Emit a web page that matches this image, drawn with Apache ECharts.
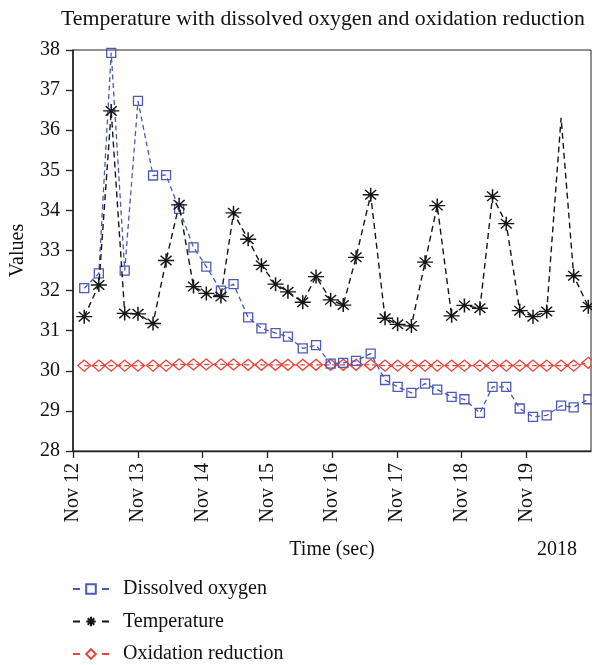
<!DOCTYPE html>
<html>
<head>
<meta charset="utf-8">
<script src="https://cdn.jsdelivr.net/npm/echarts@6/dist/echarts.min.js"></script>
<style>html,body{margin:0;padding:0;background:#fff;}#chart{width:592px;height:665px;}</style>
</head>
<body>
<div id="chart"></div>
<script>
const titleText = 'Temperature with dissolved oxygen and oxidation reduction';
const seriesNames = ['Dissolved oxygen', 'Temperature', 'Oxidation reduction'];
const yearLabel = '2018';
const axisStart = '2018-11-12T00:00';
const axisEnd = '2018-11-20T00:00';

const times = [
  '2018-11-12T04:10','2018-11-12T09:35','2018-11-12T14:10','2018-11-12T19:10',
  '2018-11-13T00:05','2018-11-13T05:40','2018-11-13T10:30','2018-11-13T15:20','2018-11-13T20:40',
  '2018-11-14T01:25','2018-11-14T06:50','2018-11-14T11:30','2018-11-14T16:55','2018-11-14T21:50',
  '2018-11-15T03:05','2018-11-15T07:40','2018-11-15T13:10','2018-11-15T18:05','2018-11-15T23:30',
  '2018-11-16T04:10','2018-11-16T08:55','2018-11-16T14:20','2018-11-16T19:40',
  '2018-11-17T00:20','2018-11-17T05:25','2018-11-17T10:30','2018-11-17T15:00','2018-11-17T20:20',
  '2018-11-18T01:05','2018-11-18T06:50','2018-11-18T11:30','2018-11-18T16:35','2018-11-18T21:35',
  '2018-11-19T02:30','2018-11-19T07:35','2018-11-19T12:55','2018-11-19T17:35','2018-11-19T23:00'
];

const dissolvedOxygen = [
  32.06,32.43,37.93,32.5,36.73,34.87,34.88,34.04,33.08,32.6,
  32.0,32.16,31.33,31.06,30.94,30.85,30.56,30.64,30.18,30.2,
  30.25,30.43,29.77,29.6,29.45,29.68,29.53,29.35,29.29,28.95,
  29.6,29.6,29.06,28.85,28.89,29.13,29.09,29.29
];

const temperature = [
  31.35,32.14,36.48,31.43,31.42,31.18,32.75,34.14,32.1,31.93,
  31.85,33.94,33.28,32.63,32.16,31.97,31.71,32.35,31.77,31.64,
  32.83,34.39,31.31,31.16,31.12,32.71,34.12,31.37,31.63,31.56,
  34.35,33.67,31.5,31.35,31.48,36.31,32.37,31.6
];

const oxidationReduction = [
  30.13,30.13,30.13,30.13,30.13,30.13,30.13,30.16,30.16,30.16,
  30.16,30.16,30.15,30.15,30.15,30.15,30.15,30.15,30.15,30.15,
  30.15,30.15,30.13,30.13,30.13,30.13,30.13,30.13,30.13,30.13,
  30.13,30.13,30.13,30.13,30.13,30.13,30.13,30.2
];

// the temperature peak near Nov 19 is drawn without a marker in the reference
const temperatureNoMarker = [35];

const ts = s => new Date(s).getTime();
const pair = (vals) => vals.map((v, i) => [ts(times[i]), v]);

const FONT = 'Liberation Serif';
const TXT = '#111';
const BLUE = '#4c58bb';
const BLACK = '#151515';
const RED = '#e8443a';
const STAR = 'path://M0,6L12,6M6,0L6,12M1.9,1.9L10.1,10.1M10.1,1.9L1.9,10.1';

const tempData = pair(temperature).map((d, i) =>
  temperatureNoMarker.includes(i) ? { value: d, symbol: 'none' } : d);

const chart = echarts.init(document.getElementById('chart'), null, { renderer: 'canvas' });
chart.setOption({
  animation: false,
  backgroundColor: '#fff',
  title: {
    text: titleText, left: 61, top: 8, padding: 0,
    textStyle: { fontFamily: FONT, fontSize: 21.8, fontWeight: 'normal', color: TXT }
  },
  grid: { left: 73, right: 1, top: 50, bottom: 214, show: true, borderColor: '#222', borderWidth: 1, backgroundColor: 'transparent' },
  xAxis: {
    type: 'value', min: ts(axisStart), max: ts(axisEnd), interval: 86400000,
    name: 'Time (sec)', nameLocation: 'middle', nameGap: 89,
    nameTextStyle: { fontFamily: FONT, fontSize: 20, color: TXT },
    axisLine: { lineStyle: { color: '#222', width: 1.3 } },
    axisTick: { length: 7, lineStyle: { color: '#222', width: 1.3 } },
    axisLabel: {
      rotate: 90, margin: 12, showMaxLabel: false,
      fontFamily: FONT, fontSize: 20, color: TXT,
      formatter: v => 'Nov ' + new Date(v).getDate()
    },
    splitLine: { show: false }
  },
  yAxis: {
    type: 'value', min: 28, max: 38, interval: 1,
    name: 'Values', nameLocation: 'middle', nameGap: 45,
    nameTextStyle: { fontFamily: FONT, fontSize: 20, color: TXT },
    axisLine: { show: true, lineStyle: { color: '#222', width: 1.6 } },
    axisTick: { show: true, length: 7, lineStyle: { color: '#222', width: 1.3 } },
    axisLabel: { margin: 13, fontFamily: FONT, fontSize: 20, color: TXT },
    splitLine: { show: false }
  },
  legend: {
    orient: 'vertical', left: 72, top: 579, padding: 0,
    itemWidth: 36, itemHeight: 12, itemGap: 12.5,
    lineStyle: { type: [7, 22] },
    textStyle: { fontFamily: FONT, fontSize: 20, color: TXT, lineHeight: 20, padding: [0, 0, 0, 9] },
    data: seriesNames
  },
  graphic: [{
    type: 'text', left: 537, top: 540,
    style: { text: yearLabel, font: '20px "Liberation Serif"', fill: TXT }
  }],
  series: [
    {
      name: seriesNames[0], type: 'line', data: pair(dissolvedOxygen),
      symbol: 'rect', symbolSize: 9, showAllSymbol: true, z: 3,
      lineStyle: { color: BLUE, width: 1.3, type: [5, 3.5] },
      itemStyle: { color: 'rgba(255,255,255,0)', borderColor: BLUE, borderWidth: 1.3 }
    },
    {
      name: seriesNames[1], type: 'line', data: tempData,
      symbol: STAR, symbolSize: [16, 14], showAllSymbol: true, z: 4,
      lineStyle: { color: BLACK, width: 1.4, type: [6, 4] },
      itemStyle: { color: BLACK, borderColor: BLACK, borderWidth: 1.4 }
    },
    {
      name: seriesNames[2], type: 'line', data: pair(oxidationReduction),
      symbol: 'diamond', symbolSize: [13, 11], showAllSymbol: true, z: 2,
      lineStyle: { color: RED, width: 1.3, type: [5, 3] },
      itemStyle: { color: 'rgba(255,255,255,0)', borderColor: RED, borderWidth: 1.3 }
    }
  ]
});
</script>
</body>
</html>
